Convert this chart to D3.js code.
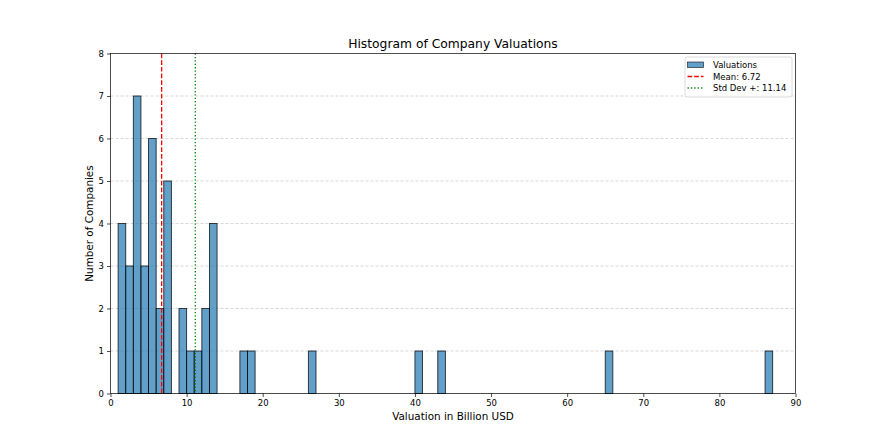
<!DOCTYPE html>
<html><head><meta charset="utf-8">
<script src="https://cdn.jsdelivr.net/npm/d3@7"></script>
<style>body{margin:0;background:#fff}svg{display:block}text{font-family:"DejaVu Sans",sans-serif;fill:#000}</style>
</head><body>
<svg id="c" width="884" height="442"></svg>
<script>
const binStarts = [1,2,3,4,5,6,7,9,10,11,12,13,17,18,26,40,43,65,86];
const binCounts = [4,3,7,3,6,2,5,2,1,1,2,4,1,1,1,1,1,1,1];
const binWidth = 1;
const meanValue = 6.72;
const stdPlusValue = 11.14;
const xTicks = [0,10,20,30,40,50,60,70,80,90];
const yTicks = [0,1,2,3,4,5,6,7,8];

const svg = d3.select("#c");
const L=110.5, R=795.5, T=53.5, B=393.5;
const x = d3.scaleLinear().domain([0,90]).range([L,R]);
const y = d3.scaleLinear().domain([0,8]).range([B,T]);

// grid
svg.append("g").selectAll("line").data(yTicks.slice(1,-1)).join("line")
  .attr("x1",L).attr("x2",R).attr("y1",d=>y(d)).attr("y2",d=>y(d))
  .attr("stroke","#b0b0b0").attr("stroke-opacity",0.7).attr("stroke-width",0.7).attr("stroke-dasharray","3,2");

// bars
svg.append("g").selectAll("rect").data(binStarts.map((s,i)=>({s,c:binCounts[i]}))).join("rect")
  .attr("x",d=>x(d.s)).attr("width",d=>x(d.s+binWidth)-x(d.s))
  .attr("y",d=>y(d.c)).attr("height",d=>y(0)-y(d.c))
  .attr("fill","rgba(31,119,180,0.7)").attr("stroke","#000").attr("stroke-opacity",0.8).attr("stroke-width",0.9);

// lines
svg.append("line").attr("x1",x(meanValue)).attr("x2",x(meanValue)).attr("y1",T).attr("y2",B)
  .attr("stroke","#ff0000").attr("stroke-width",1.3).attr("stroke-dasharray","4.7,2");
svg.append("line").attr("x1",x(stdPlusValue)).attr("x2",x(stdPlusValue)).attr("y1",T).attr("y2",B)
  .attr("stroke","#008000").attr("stroke-width",1.3).attr("stroke-dasharray","1.3,2.1");

// axes
const xa = svg.append("g").attr("transform",`translate(0,${B})`)
  .call(d3.axisBottom(x).tickValues(xTicks).tickSize(3.5).tickPadding(3));
const ya = svg.append("g").attr("transform",`translate(${L},0)`)
  .call(d3.axisLeft(y).tickValues(yTicks).tickSize(3.5).tickPadding(3));
[xa,ya].forEach(a=>{a.selectAll("text").attr("font-size",8.5).attr("font-family","DejaVu Sans").attr("fill","#000");
  a.selectAll("line").attr("stroke","#000").attr("stroke-width",0.7);
  a.select(".domain").remove();});
svg.append("rect").attr("x",L).attr("y",T).attr("width",R-L).attr("height",B-T)
  .attr("fill","none").attr("stroke","#000").attr("stroke-width",0.7);

// labels
svg.append("text").attr("x",(L+R)/2).attr("y",48).attr("text-anchor","middle").attr("font-size",12.3).text("Histogram of Company Valuations");
svg.append("text").attr("x",(L+R)/2).attr("y",420).attr("text-anchor","middle").attr("font-size",10.4).text("Valuation in Billion USD");
svg.append("text").attr("transform",`translate(93,${(T+B)/2}) rotate(-90)`).attr("text-anchor","middle").attr("font-size",10.4).text("Number of Companies");

// legend
const lg = svg.append("g").attr("transform","translate(685,57)");
lg.append("rect").attr("x",0).attr("y",0).attr("width",107).attr("height",40).attr("rx",2)
  .attr("fill","#fff").attr("fill-opacity",0.8).attr("stroke","#ccc").attr("stroke-width",0.7);
lg.append("rect").attr("x",2.5).attr("y",5).attr("width",16).attr("height",5.5)
  .attr("fill","rgba(31,119,180,0.7)").attr("stroke","#000").attr("stroke-opacity",0.8).attr("stroke-width",0.7);
lg.append("line").attr("x1",2.5).attr("x2",18.5).attr("y1",19.5).attr("y2",19.5).attr("stroke","#ff0000").attr("stroke-width",1.3).attr("stroke-dasharray","4.7,2");
lg.append("line").attr("x1",2.5).attr("x2",18.5).attr("y1",31).attr("y2",31).attr("stroke","#008000").attr("stroke-width",1.3).attr("stroke-dasharray","1.3,2.1");
const labels=["Valuations",`Mean: ${meanValue.toFixed(2)}`,`Std Dev +: ${stdPlusValue.toFixed(2)}`];
lg.selectAll("text.l").data(labels).join("text").attr("x",28).attr("y",(d,i)=>11+i*11.5).attr("font-size",8.5).text(d=>d);
</script>
</body></html>
